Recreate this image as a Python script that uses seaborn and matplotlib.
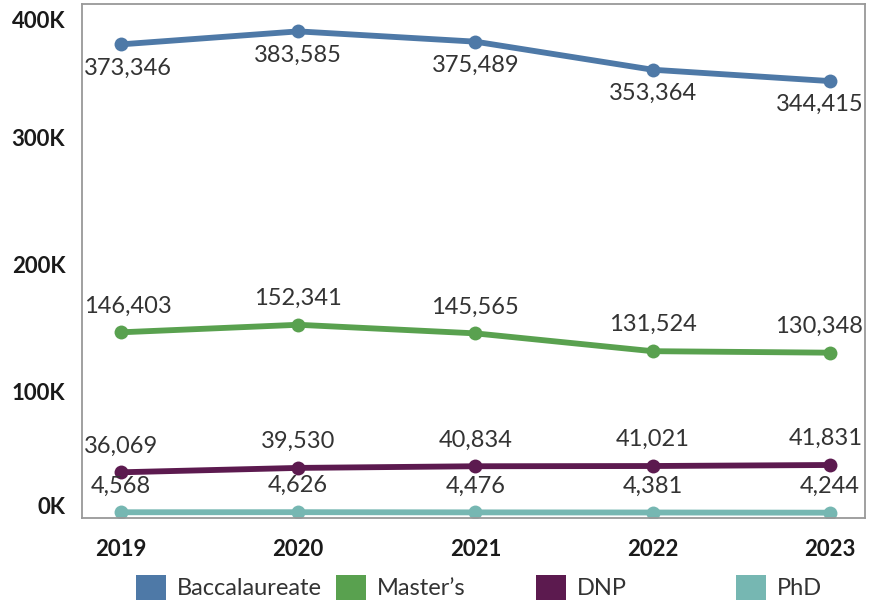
import pandas as pd
import matplotlib.pyplot as plt
import seaborn as sns
from matplotlib.patches import Patch

years = ["2019", "2020", "2021", "2022", "2023"]
baccalaureate = [373346, 383585, 375489, 353364, 344415]
masters = [146403, 152341, 145565, 131524, 130348]
dnp = [36069, 39530, 40834, 41021, 41831]
phd = [4568, 4626, 4476, 4381, 4244]

degrees = ["Baccalaureate", "Master\u2019s", "DNP", "PhD"]
colors = ["#4e79a7", "#59a14f", "#5c1a4f", "#76b7b2"]
ytick_vals = [0, 100000, 200000, 300000, 400000]
ytick_labels = ["0K", "100K", "200K", "300K", "400K"]

rows = []
for deg, vals in zip(degrees, [baccalaureate, masters, dnp, phd]):
    for i, v in enumerate(vals):
        rows.append({"degree": deg, "x": i, "year": years[i], "value": v})
df = pd.DataFrame(rows)

sns.set_style("white")
plt.rcParams["font.family"] = ["Lato", "DejaVu Sans"]

fig = plt.figure(figsize=(8.76, 6.01), dpi=100)
ax = fig.add_axes([0.0936, 0.138, 0.894, 0.855])

sns.lineplot(data=df, x="x", y="value", hue="degree", palette=colors,
             hue_order=degrees, marker="o", markersize=10, markeredgewidth=0,
             linewidth=4.2, legend=False, ax=ax)

ax.set_xlim(-0.22, 4.2)
ax.set_ylim(0, 405000)
ax.set_xlabel("")
ax.set_ylabel("")

ax.set_xticks(range(len(years)))
ax.set_xticklabels(years, fontsize=16, fontweight="bold", color="#1a1a1a")
ax.set_yticks(ytick_vals)
ax.set_yticklabels(ytick_labels, fontsize=16, fontweight="bold", color="#1a1a1a")
ax.tick_params(axis="x", length=0, pad=15)
ax.tick_params(axis="y", length=0, pad=12)
tl = ax.get_yticklabels()
tl[0].set_verticalalignment("bottom")
tl[-1].set_verticalalignment("top")

for s in ax.spines.values():
    s.set_color("#999999")
    s.set_linewidth(1.3)

texts = []
for deg, vals in zip(degrees, [baccalaureate, masters, dnp, phd]):
    off = -17 if deg == "Baccalaureate" else 19
    for i, v in enumerate(vals):
        t = ax.annotate(f"{v:,}", (i, v), xytext=(0, off), textcoords="offset points",
                        ha="center", va="center", fontsize=17, color="#333333")
        texts.append(t)

# keep labels inside the plot frame
fig.canvas.draw()
r = fig.canvas.get_renderer()
abox = ax.get_window_extent(r)
for t in texts:
    bb = t.get_window_extent(r)
    dx = 0
    if bb.x1 > abox.x1 - 2:
        dx = abox.x1 - 2 - bb.x1
    elif bb.x0 < abox.x0 + 2:
        dx = abox.x0 + 2 - bb.x0
    if dx:
        x, y = t.xyann
        t.xyann = (x + dx * 72 / fig.dpi, y)

legend_x = [136, 336, 536, 736]
for deg, c, lx in zip(degrees, colors, legend_x):
    fig.legend(handles=[Patch(facecolor=c, edgecolor="none")], labels=[deg],
               loc="center left", bbox_to_anchor=(lx / 876, 0.023), frameon=False,
               borderpad=0, borderaxespad=0,
               handlelength=1.25, handleheight=1.25, handletextpad=0.5,
               fontsize=17, labelcolor="#333333")

fig.savefig("out.png", dpi=100)
